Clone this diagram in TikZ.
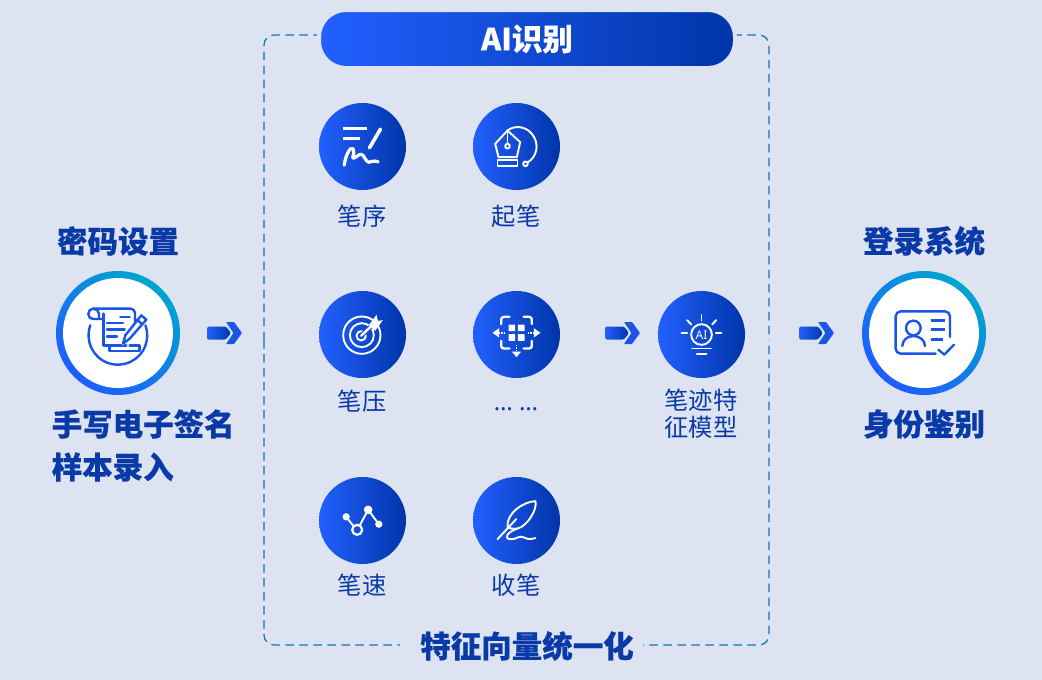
\documentclass[tikz,border=0pt]{standalone}
\usepackage{fontspec}
\newfontfamily\cjk[BoldFeatures={FakeBold=0.3}]{Noto Sans CJK SC}
\newfontfamily\latinsans{Noto Sans}
\definecolor{bgc}{HTML}{DDE3F0}
\definecolor{gl}{HTML}{2260FF}
\definecolor{gr}{HTML}{0035A8}
\definecolor{tc}{HTML}{0A3AA8}
\definecolor{ringl}{HTML}{1F5CFF}
\definecolor{ringr}{HTML}{00A5D0}
\definecolor{ic}{HTML}{1A55E8}
\definecolor{dashc}{HTML}{1074B8}
\tikzset{
  iconcirc/.style={circle,minimum size=87pt,inner sep=0pt,left color=gl,right color=gr},
  heading/.style={font=\cjk\bfseries\fontsize{30.5}{36}\selectfont,text=tc,inner sep=0pt},
  smalllabel/.style={font=\cjk\fontsize{24.3}{27}\selectfont,text=tc,inner sep=0pt,align=center},
  wline/.style={draw=white,line width=1.9pt,line cap=round,line join=round},
  bline/.style={draw=ic,line width=2.4pt,line cap=round,line join=round},
  framedash/.style={dashc,line width=1.2pt,dash pattern=on 8.5pt off 5.5pt,rounded corners=10pt},
  zoomed/.style={x=0.3333pt,y=-0.3333pt},
  blockarrow/.pic={
    \shade[left color=gl,right color=gr,rounded corners=1.5pt] (1,-6.5) -- (20,-6.5) -- (25,0) -- (20,6.5) -- (1,6.5) -- cycle;
    \fill[fill=ic,rounded corners=0.7pt] (20,-11) -- (28,-11) -- (36,0) -- (28,11) -- (20,11) -- (27.5,0) -- cycle;
  }
}
\begin{document}
\begin{tikzpicture}[x=1pt,y=-1pt]
\useasboundingbox (0,0) rectangle (1042,680);
\fill[bgc] (0,0) rectangle (1042,680);

% dashed frame
\draw[framedash] (264,340) -- (264,35) -- (769,35) -- (769,340);
\draw[framedash] (264,340) -- (264,645) -- (769,645) -- (769,340);
\fill[bgc] (400,640) rectangle (643,650);

% header pill
\node[draw=bgc,line width=4pt,rounded corners=27pt,minimum width=416pt,minimum height=58pt,inner sep=0pt,left color=gl,right color=gr,
  font=\cjk\bfseries\fontsize{30.5}{36}\selectfont,text=white] (pill) at (527,39) {AI识别};
\node[heading] (bottomlabel) at (527,646) {特征向量统一化};

% big rings
\node[circle,minimum size=124pt,inner sep=0pt,shading=axis,left color=ringl,right color=ringr,shading angle=140] (ringA) at (118,333) {};
\node[circle,minimum size=110pt,inner sep=0pt,fill=white] (innerA) at (118,333) {};
\node[circle,minimum size=124pt,inner sep=0pt,shading=axis,left color=ringl,right color=ringr,shading angle=140] (ringB) at (924,333) {};
\node[circle,minimum size=110pt,inner sep=0pt,fill=white] (innerB) at (924,333) {};

% blue circles
\node[iconcirc] (seq) at (362.5,146.5) {};
\node[iconcirc] (start) at (516.5,146.5) {};
\node[iconcirc] (press) at (362.5,334.5) {};
\node[iconcirc] (more) at (516.5,334.5) {};
\node[iconcirc] (speed) at (362.5,520.5) {};
\node[iconcirc] (finish) at (516.5,520.5) {};
\node[iconcirc] (model) at (701.5,334.5) {};

% labels
\node[heading] (t1) at (118,241) {密码设置};
\node[heading,anchor=west] (t2) at (51.5,424) {手写电子签名};
\node[heading,anchor=west] (t3) at (51.5,467) {样本录入};
\node[heading] (t4) at (924,241) {登录系统};
\node[heading] (t5) at (924,424) {身份鉴别};
\node[smalllabel] (l1) at (362,216) {笔序};
\node[smalllabel] (l2) at (516,216) {起笔};
\node[smalllabel] (l3) at (362,401) {笔压};
\node[smalllabel,font=\latinsans\fontsize{24}{27}\selectfont] (l4) at (516,409) {… …};
\node[smalllabel] (l5) at (701,414) {笔迹特\\征模型};
\node[smalllabel] (l6) at (362,585) {笔速};
\node[smalllabel] (l7) at (516,585) {收笔};

% arrows
\pic at (206,333) {blockarrow};
\pic at (604,333) {blockarrow};
\pic at (798,333) {blockarrow};

% scroll icon
\begin{scope}[shift={(innerA.center)},zoomed,shift={(-265,-218)}]
  \draw[bline] (190,145) -- (303,145) to[out=0,in=90] (316,158) -- (316,200);
  \draw[bline] (190,145) to[out=180,in=90] (176,161) to[out=-90,in=180] (190,176) -- (222,176);
  \draw[bline] (190,145) to[out=0,in=90] (208,160) -- (208,176);
  \draw[bline] (222,160) -- (222,255) -- (290,255);
  \draw[bline] (272,170) -- (300,170);
  \draw[bline] (232,188) -- (280,188);
  \draw[bline] (232,207) -- (285,207);
  \draw[bline] (232,228) -- (262,228);
  \draw[bline] (240,255) -- (240,272) -- (330,272) -- (330,255) -- (300,255);
  \fill[white] (340,160) -- (358,178) -- (300,240) -- (280,255) -- (275,250) -- (285,225) -- cycle;
  \draw[bline] (335,165) -- (350,178) -- (300,235) -- (280,250) -- (287,225) -- cycle;
  \draw[bline] (322,178) -- (338,192);
  \draw[bline] (182,195) arc[start angle=200,end angle=-20,radius=88];
\end{scope}

% ID card icon
\begin{scope}[shift={(innerB.center)},zoomed,shift={(-400,-203)}]
  \draw[bline] (435,265) -- (330,265) to[out=180,in=-90] (315,250) -- (315,153) to[out=90,in=180] (330,138) -- (463,138) to[out=0,in=90] (478,153) -- (478,215);
  \draw[bline] (368,188) circle[radius=22];
  \draw[bline] (335,242) to[out=90,in=180] (368,212) to[out=0,in=90] (403,242);
  \draw[ic,line width=3pt] (420,165) -- (462,165);
  \draw[ic,line width=3pt] (420,193) -- (462,193);
  \draw[ic,line width=3pt] (420,222) -- (458,222);
  \draw[bline] (443,253) -- (461,268) -- (490,238);
\end{scope}

% stroke order icon
\begin{scope}[shift={(seq.center)},zoomed,shift={(-186,-168)},wline]
  \draw[line width=3pt,line cap=butt] (127,115) -- (200,115);
  \draw[line width=3pt,line cap=butt] (127,143) -- (178,143);
  \draw[line width=3.6pt] (240,116) -- (207,172);
  \draw[line width=3.2pt] (131,224) .. controls (135,195) and (150,165) .. (158,175)
     .. controls (165,190) and (150,205) .. (160,203) .. controls (172,198) and (178,185) .. (188,195)
     .. controls (195,205) and (200,222) .. (214,213) .. controls (220,210) and (225,212) .. (233,214);
\end{scope}

% pen nib icon
\begin{scope}[shift={(start.center)},zoomed,shift={(-649,-168)},wline]
  \draw (622,120) -- (660,155) -- (650,200) -- (595,200) -- (585,160) -- cycle;
  \draw (622,120) -- (622,160);
  \draw (622,167) circle[radius=7];
  \draw (592,208) rectangle (652,227);
  \draw (622,120) .. controls (640,105) and (675,105) .. (695,130) .. controls (720,160) and (710,200) .. (682,216);
  \draw (676,220) circle[radius=7];
\end{scope}

% target icon
\begin{scope}[shift={(press.center)},zoomed,shift={(-186,-163)},wline]
  \draw (184,165) circle[radius=56];
  \draw (184,165) circle[radius=36];
  \draw (182,167) circle[radius=14];
  \draw[draw=gl!55!gr,line width=4.5pt] (182,167) -- (215,135);
  \draw[line width=2.4pt] (182,167) -- (215,135);
  \fill[white] (205,135) -- (228,104) -- (232,122) -- (247,120) -- (224,152) -- cycle;
\end{scope}

% grid icon
\begin{scope}[shift={(more.center)},zoomed,shift={(-649,-163)},wline]
  \draw[line width=2.3pt] (603,132) -- (603,118) to[out=90,in=180] (611,110) -- (628,110);
  \draw[line width=2.3pt] (670,110) -- (687,110) to[out=0,in=90] (695,118) -- (695,132);
  \draw[line width=2.3pt] (603,182) -- (603,197) to[out=-90,in=180] (611,205) -- (628,205);
  \draw[line width=2.3pt] (670,205) -- (687,205) to[out=0,in=-90] (695,197) -- (695,182);
  \foreach \cx/\cy in {635/143,663/143,635/172,663/172}
    \fill[white,rounded corners=0.4pt] (\cx-10,\cy-10) rectangle (\cx+10,\cy+10);
  \fill[white] (577,158) -- (597,144) -- (597,172) -- cycle;
  \fill[white] (721,158) -- (701,144) -- (701,172) -- cycle;
  \fill[white] (649,231) -- (635,214) -- (663,214) -- cycle;
  \draw[line width=1.8pt,line cap=butt,dash pattern=on 1.5pt off 1pt] (595,158) -- (615,158);
  \draw[line width=1.8pt,line cap=butt,dash pattern=on 1.5pt off 1pt] (683,158) -- (703,158);
  \draw[line width=1.8pt,line cap=butt,dash pattern=on 1.5pt off 1pt] (649,193) -- (649,215);
\end{scope}

% speed icon
\begin{scope}[shift={(speed.center)},zoomed,shift={(-186,-152)},wline]
  \draw (137,141) -- (160,170);
  \draw (178,166) -- (203,120) -- (235,163);
  \draw[line width=2.2pt] (170,180) circle[radius=15];
  \fill[white] (137,141) circle[radius=11];
  \fill[white] (203,120) circle[radius=13];
  \fill[white] (235,163) circle[radius=11];
\end{scope}

% feather icon
\begin{scope}[shift={(finish.center)},zoomed,shift={(-649,-152)},wline]
  \draw (592,208) -- (648,148);
  \draw (622,172) .. controls (618,130) and (670,95) .. (706,94) .. controls (712,120) and (680,170) .. (652,176) .. controls (640,178) and (628,176) .. (622,172) -- cycle;
  \draw (652,176) .. controls (620,188) and (610,205) .. (630,208) .. controls (650,210) and (655,195) .. (672,203) .. controls (685,210) and (695,208) .. (706,205);
\end{scope}

% bulb icon
\begin{scope}[shift={(model.center)},zoomed,shift={(-305,-148)},wline]
  \draw (305,148) circle[radius=31];
  \node[inner sep=0pt,text=white,font=\latinsans\fontsize{12}{12}\selectfont] (ailabel) at (305,149) {AI};
  \draw (305,90) -- (305,106);
  \draw (262,105) -- (274,118);
  \draw (349,105) -- (337,118);
  \draw (245,143) -- (262,143);
  \draw (348,143) -- (365,143);
  \draw (277,190) -- (333,190);
  \draw (291,206) -- (320,206);
\end{scope}
\end{tikzpicture}
\end{document}
